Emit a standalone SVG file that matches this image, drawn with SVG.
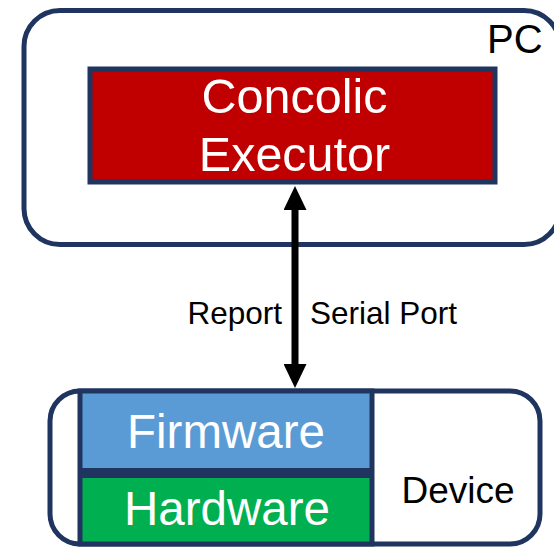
<svg xmlns="http://www.w3.org/2000/svg" width="554" height="547" viewBox="0 0 554 547">
  <defs>
    <style>
      .frame { fill: #ffffff; stroke: #1f3560; stroke-width: 5; }
      .box { stroke: #1f3560; stroke-width: 5; }
      .lbl { font-family: "Liberation Sans", Arial, sans-serif; fill: #000000; }
      .wlbl { font-family: "Liberation Sans", Arial, sans-serif; fill: #ffffff; text-anchor: middle; }
      .conn { stroke: #000000; stroke-width: 7; fill: none; }
    </style>
    <marker id="arrowHead" markerUnits="userSpaceOnUse" viewBox="0 0 24 23" markerWidth="24" markerHeight="23" refX="10" refY="11.5" orient="auto-start-reverse">
      <path d="M0,0 L24,11.5 L0,23 z" fill="#000000"/>
    </marker>
  </defs>
  <rect width="554" height="547" fill="#ffffff"/>

  <g id="pc">
    <rect class="frame" x="24" y="10.5" width="536" height="234" rx="36" ry="36"/>
    <text class="lbl" x="487" y="53" font-size="40">PC</text>
  </g>

  <g id="concolic-executor">
    <rect class="box" x="90" y="69" width="405" height="113" fill="#c00000"/>
    <text class="wlbl" x="294.5" y="113" font-size="48.5">Concolic</text>
    <text class="wlbl" x="294.5" y="171" font-size="48.5">Executor</text>
  </g>

  <g id="device">
    <rect class="frame" x="50" y="391" width="490" height="153" rx="30" ry="30"/>
    <text class="lbl" x="458" y="503" font-size="37" text-anchor="middle">Device</text>
  </g>

  <g id="firmware">
    <rect class="box" x="80" y="391" width="292" height="79.5" fill="#5b9bd5"/>
    <text class="wlbl" x="226" y="448" font-size="47.5">Firmware</text>
  </g>

  <g id="hardware">
    <rect class="box" x="80" y="475.5" width="292" height="68.5" fill="#00b050"/>
    <text class="wlbl" x="227" y="525" font-size="47.5">Hardware</text>
  </g>

  <g id="connectors">
    <line class="conn" x1="295" y1="200" x2="295" y2="374" marker-start="url(#arrowHead)" marker-end="url(#arrowHead)"/>
    <text class="lbl" x="282" y="324" font-size="31.5" text-anchor="end">Report</text>
    <text class="lbl" x="310" y="324" font-size="31.5">Serial Port</text>
  </g>
</svg>
